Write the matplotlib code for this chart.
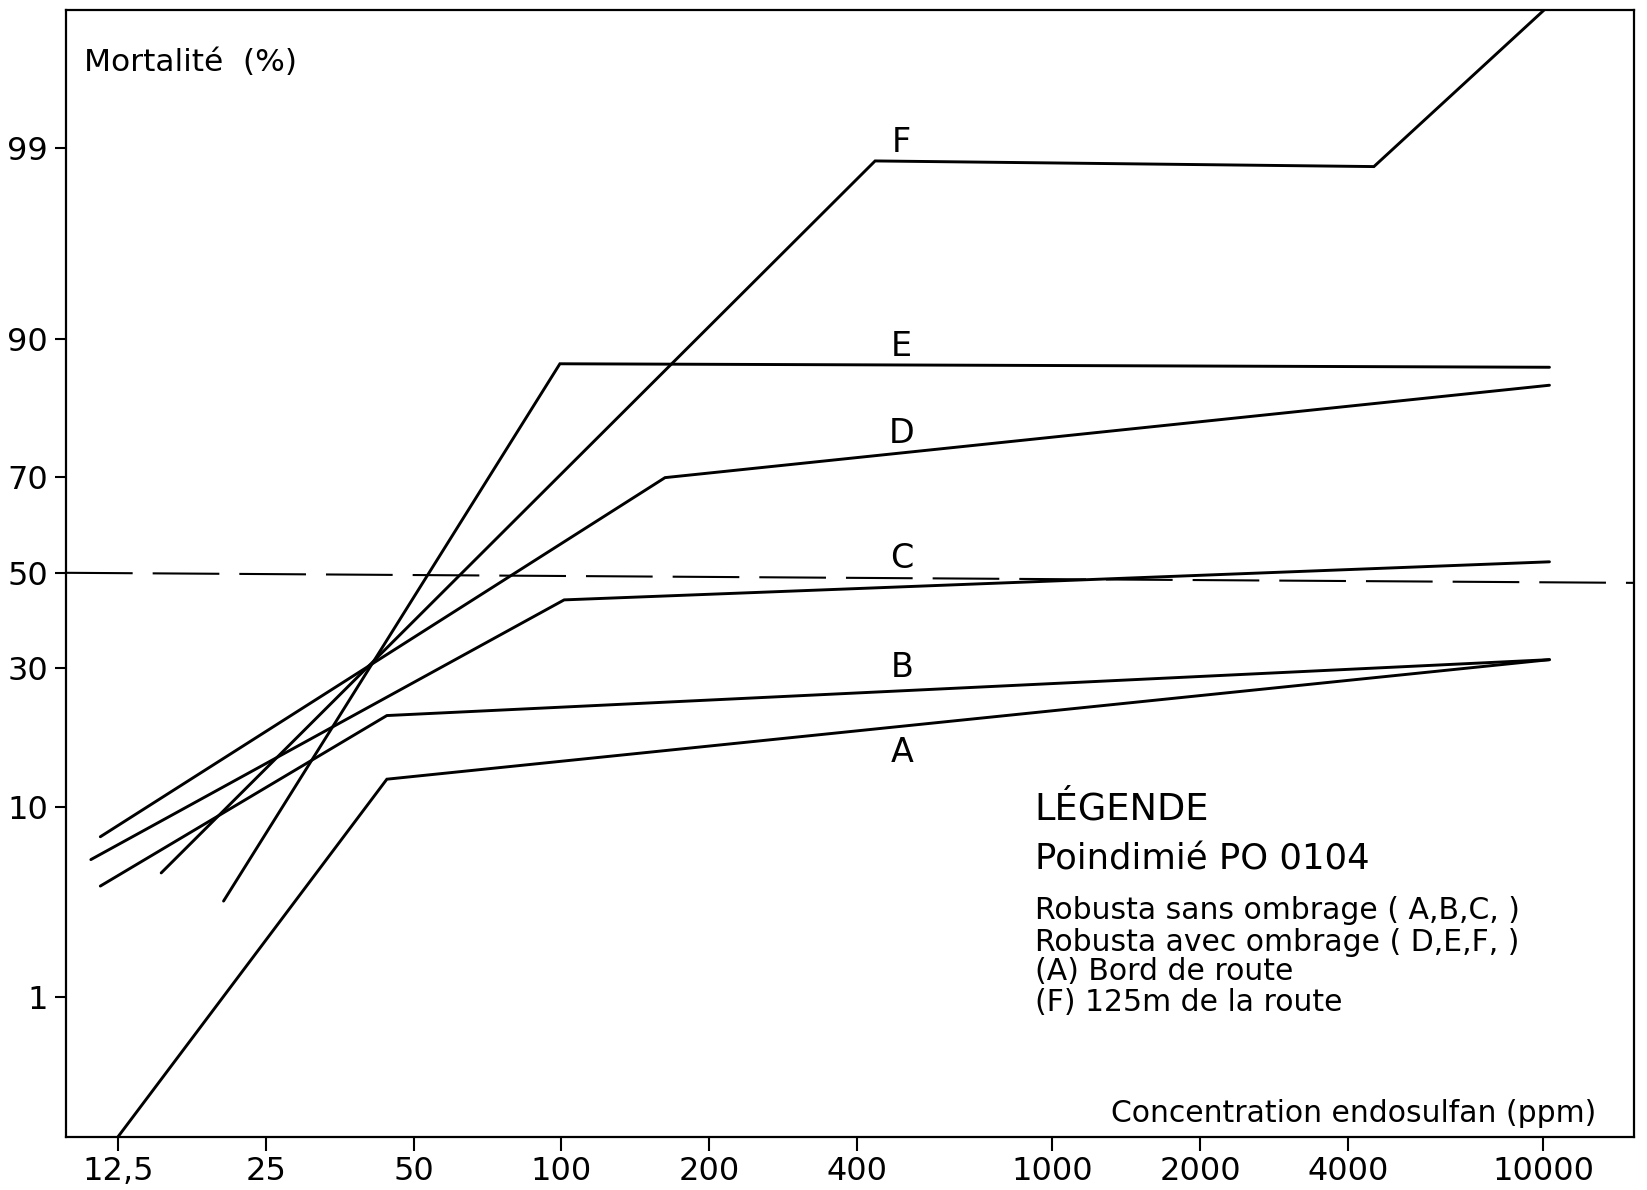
import numpy as np
import matplotlib
matplotlib.use("Agg")
import matplotlib.pyplot as plt
from statistics import NormalDist

plt.rcParams['font.family'] = ['DejaVu Sans']

# ---- axis ticks -------------------------------------------------------
conc_ticks = [12.5, 25, 50, 100, 200, 400, 1000, 2000, 4000, 10000]
conc_labels = ["12,5", "25", "50", "100", "200", "400", "1000", "2000", "4000", "10000"]
mort_ticks = [1, 10, 30, 50, 70, 90, 99]
mort_labels = ["1", "10", "30", "50", "70", "90", "99"]

# ---- dose-response lines: concentration (ppm) vs mortality (%) --------
a_conc = [12.5, 44.1, 10300]
a_mort = [0.1, 12.9, 31.7]

b_conc = [11.5, 44.1, 10300]
b_mort = [4.3, 21.7, 31.7]

c_conc = [11.0, 101.3, 10300]
c_mort = [5.8, 44.1, 52.4]

d_conc = [11.5, 162.6, 10300]
d_mort = [7.4, 69.9, 84.8]

e_conc = [20.5, 99.3, 10300]
e_mort = [3.6, 87.4, 87.0]

f_conc = [15.3, 435.6, 4521, 10100]
f_mort = [5.0, 98.8, 98.7, 99.9]

# LD50 reference line
ld50_conc = [9.79, 15313]
ld50_mort = [50.0, 47.8]

series_names = ["A", "B", "C", "D", "E", "F"]

# ---- probit scale for the mortality axis ------------------------------
_nd = NormalDist()
_inv = np.vectorize(_nd.inv_cdf, otypes=[float])
_cdf = np.vectorize(_nd.cdf, otypes=[float])


def pct_to_probit(p):
    p = np.asarray(p, dtype=float)
    q = np.clip(p / 100.0, 1e-12, 1 - 1e-12)
    q = np.where(np.isfinite(q), q, 0.5)
    return _inv(q)


def probit_to_pct(z):
    z = np.asarray(z, dtype=float)
    z = np.where(np.isfinite(z), z, 0.0)
    return 100.0 * _cdf(z)


fig = plt.figure(figsize=(16.47, 11.90), dpi=100)
ax = fig.add_axes([0.04007, 0.04454, 0.95203, 0.94706])

ax.set_xscale('log')
ax.set_yscale('function', functions=(pct_to_probit, probit_to_pct))
ax.set_xlim(9.79, 15313)
ax.set_ylim(0.0994, 99.898)

line_kw = dict(color='black', lw=2.1, solid_capstyle='round', solid_joinstyle='miter')
for xs, ys in [(a_conc, a_mort), (b_conc, b_mort), (c_conc, c_mort),
               (d_conc, d_mort), (e_conc, e_mort), (f_conc, f_mort)]:
    ax.plot(xs, ys, **line_kw)

ax.plot(ld50_conc, ld50_mort, color='black', lw=1.5,
        linestyle=(0, (32, 9.6)), clip_on=True)

# ticks
ax.set_xticks(conc_ticks)
ax.set_xticklabels(conc_labels)
ax.xaxis.set_minor_locator(matplotlib.ticker.NullLocator())
ax.set_yticks(mort_ticks)
ax.set_yticklabels(mort_labels)
ax.yaxis.set_minor_locator(matplotlib.ticker.NullLocator())

ax.tick_params(axis='x', direction='out', length=10, width=1.5, pad=4,
               labelsize=23, colors='black')
ax.tick_params(axis='y', direction='out', length=8, width=1.5, pad=5,
               labelsize=23, colors='black')
for sp in ax.spines.values():
    sp.set_linewidth(1.6)
    sp.set_color('black')

# series labels
label_y = [0.3327, 0.4082, 0.5049, 0.6158, 0.6930, 0.8736]
for name, yy in zip(series_names, label_y):
    ax.text(0.533, yy, name, transform=ax.transAxes, ha='center',
            va='baseline', fontsize=24, color='black')

# axis titles inside the frame
ax.text(0.0115, 0.9455, "Mortalité  (%)", transform=ax.transAxes,
        ha='left', va='baseline', fontsize=22.5, color='black')
ax.text(0.976, 0.0133, "Concentration endosulfan (ppm)", transform=ax.transAxes,
        ha='right', va='baseline', fontsize=21.5, color='black')

# legend block
lx = 0.6177
ax.text(lx, 0.2813, "LÉGENDE", transform=ax.transAxes, ha='left',
        va='baseline', fontsize=26.5, color='black')
ax.text(lx, 0.2372, "Poindimié PO 0104", transform=ax.transAxes, ha='left',
        va='baseline', fontsize=25.5, color='black')
legend_lines = ["Robusta sans ombrage ( A,B,C, )",
                "Robusta avec ombrage ( D,E,F, )",
                "(A) Bord de route",
                "(F) 125m de la route"]
for txt, yy in zip(legend_lines, [0.1934, 0.1654, 0.1393, 0.1114]):
    ax.text(lx, yy, txt, transform=ax.transAxes, ha='left',
            va='baseline', fontsize=21.5, color='black')

fig.savefig("out.png", dpi=100, facecolor='white')
